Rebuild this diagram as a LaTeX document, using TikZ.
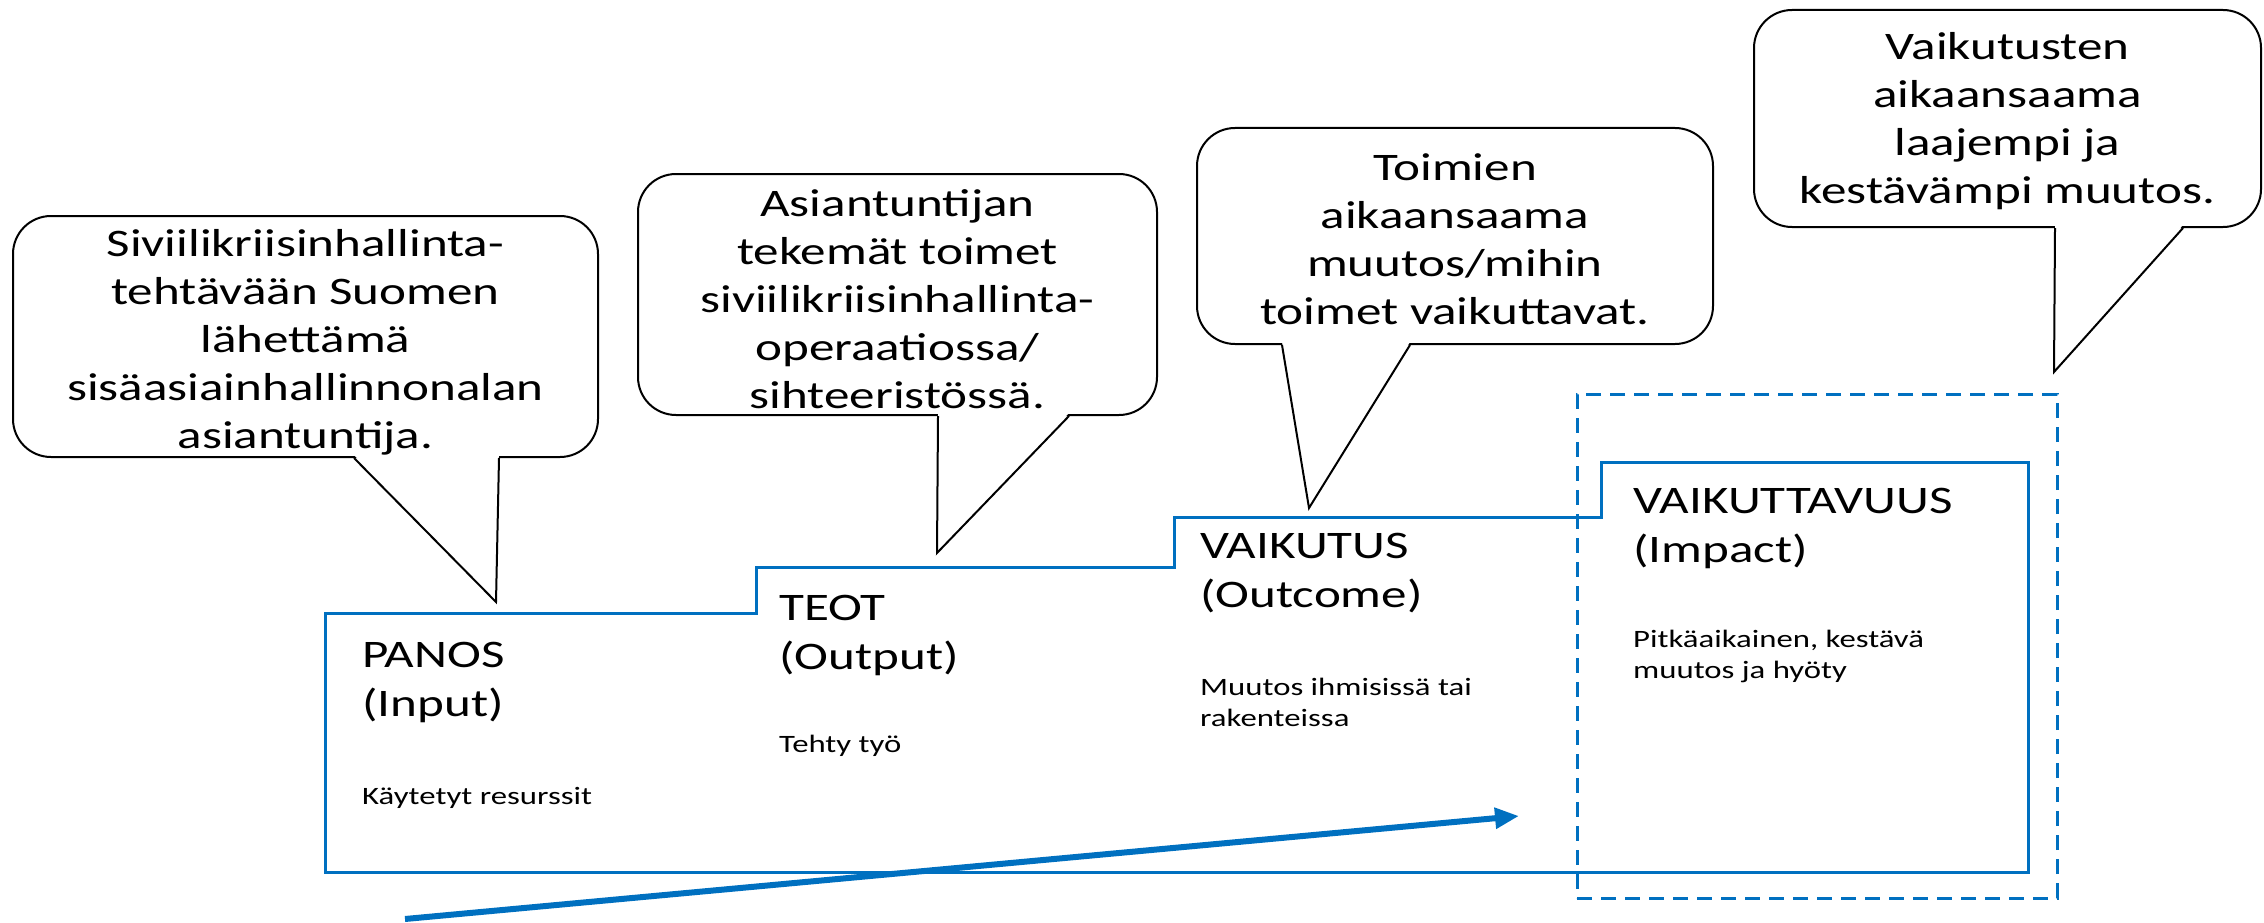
\documentclass[tikz,border=0pt]{standalone}
\usepackage{fontspec}
\setmainfont{Carlito}[FakeStretch=1.31]
\usetikzlibrary{calc,arrows.meta}
\definecolor{stepblue}{RGB}{0,112,192}
\tikzset{
  bubble/.style={draw=black, line width=2pt, rounded corners=38pt, fill=white, inner sep=0pt},
  bubbletext/.style={anchor=base, inner sep=0pt, align=center, font=\fontsize{39}{48}\selectfont},
  bubbletail/.style={draw=black, line width=2pt, line join=miter},
  stairline/.style={draw=stepblue, line width=3pt},
  impactframe/.style={draw=stepblue, line width=3pt, dash pattern=on 15pt off 9pt},
  trendarrow/.style={stepblue, line width=6pt, -{Triangle[length=24pt,width=20pt]}},
  headtext/.style={anchor=base west, inner sep=0pt, align=left, font=\fontsize{39}{49}\selectfont},
  smalltext/.style={anchor=base west, inner sep=0pt, align=left, font=\fontsize{25}{31}\selectfont},
}

\begin{document}
\begin{tikzpicture}[x=1pt,y=-1pt]
\useasboundingbox (0,0) rectangle (2264,923);

% the four steps (multi-line nodes sit on their last baseline)
\draw[stairline] (325,872) |- (756,613) |- (1174,567) |- (1601,517) |- (2028,462) -- (2028,872) -- cycle;
\node[impactframe, inner sep=0pt, minimum width=480pt, minimum height=504pt] (frame) at (1817,646) {};

\node[headtext] (panos) at (362,716) {PANOS\\(Input)};
\node[smalltext] (panosdesc) at (362,804) {Käytetyt resurssit};
\node[headtext] (teot) at (779,669) {TEOT\\(Output)};
\node[smalltext] (teotdesc) at (779,752) {Tehty työ};
\node[headtext] (vaikutus) at (1200,607) {VAIKUTUS\\(Outcome)};
\node[smalltext] (vaikutusdesc) at (1200,726) {Muutos ihmisissä tai\\rakenteissa};
\node[headtext] (vaikuttavuus) at (1633,562) {VAIKUTTAVUUS\\(Impact)};
\node[smalltext] (vaikuttavuusdesc) at (1633,678) {Pitkäaikainen, kestävä\\muutos ja hyöty};

% time arrow
\coordinate (trendstart) at (405,919);
\coordinate (trendend) at (1519,816);
\draw[trendarrow] (trendstart) -- (trendend);

% speech bubbles
\node[bubble, minimum width=585pt, minimum height=241pt] (panosnote) at (305.5,336.5) {};
\node[bubble, minimum width=519pt, minimum height=241pt] (teotnote) at (897.5,294.5) {};
\node[bubble, minimum width=516pt, minimum height=216pt] (vaikutusnote) at (1455,236) {};
\node[bubble, minimum width=507pt, minimum height=217pt] (vaikuttavuusnote) at (2007.5,118.5) {};

\coordinate (panostip) at (496,602);
\coordinate (teottip) at (937,553);
\coordinate (vaikutustip) at (1309,508);
\coordinate (vaikuttavuustip) at (2054,372);

% tails: white patch over the border, then the two sides
\foreach \note/\tip/\a/\b in {panosnote/panostip/342/487, teotnote/teottip/301/432,
    vaikutusnote/vaikutustip/86/214, vaikuttavuusnote/vaikuttavuustip/302/430}{
  \fill[white] ($(\note.south west)+(\a,-3)$) -- (\tip) -- ($(\note.south west)+(\b,-3)$) -- cycle;
  \draw[bubbletail] ($(\note.south west)+(\a,0)$) -- (\tip) -- ($(\note.south west)+(\b,0)$);
}

\node[bubbletext] (panosnotetext) at ($(panosnote.south)+(0,-10)$)
  {Siviilikriisinhallinta-\\tehtävään Suomen\\lähettämä\\sisäasiainhallinnonalan\\asiantuntija.};
\node[bubbletext] (teotnotetext) at ($(teotnote.south)+(0,-8)$)
  {Asiantuntijan\\tekemät toimet\\siviilikriisinhallinta-\\operaatiossa/\\sihteeristössä.};
\node[bubbletext] (vaikutusnotetext) at ($(vaikutusnote.south)+(0,-21)$)
  {Toimien\\aikaansaama\\muutos/mihin\\toimet vaikuttavat.};
\node[bubbletext] (vaikuttavuusnotetext) at ($(vaikuttavuusnote.south)+(0,-25)$)
  {Vaikutusten\\aikaansaama\\laajempi ja\\kestävämpi muutos.};
\end{tikzpicture}
\end{document}
